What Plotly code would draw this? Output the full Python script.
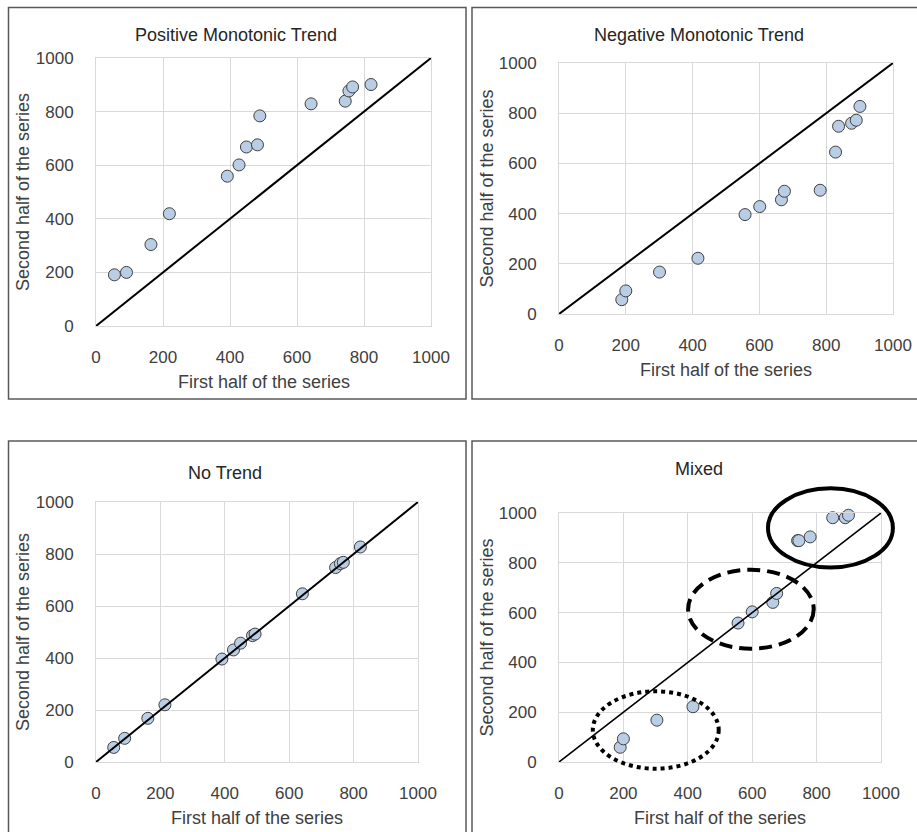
import plotly.graph_objects as go

W, H = 917, 832

# ---------------- data ----------------
pos_x = [55, 91, 164, 219, 392, 427, 449, 482, 489, 642, 744, 755, 766, 821]
pos_y = [191, 200, 304, 419, 559, 601, 668, 676, 784, 829, 839, 877, 892, 901]

neg_x = [188, 200, 301, 416, 557, 601, 666, 675, 782, 828, 837, 876, 890, 901]
neg_y = [57, 92, 167, 222, 396, 428, 455, 489, 493, 645, 748, 760, 772, 827]

none_x = [55, 89, 161, 214, 391, 427, 449, 486, 494, 641, 744, 759, 768, 821]
none_y = [56, 91, 168, 220, 396, 431, 457, 486, 492, 647, 748, 763, 768, 827]

mix_x = [190, 200, 304, 416, 556, 600, 664, 676, 741, 745, 780, 850, 889, 899]
mix_y = [59, 93, 168, 222, 558, 603, 641, 677, 889, 889, 904, 981, 981, 991]

diag = [0, 1000]
ticks = [0, 200, 400, 600, 800, 1000]
titles = ["Positive Monotonic Trend", "Negative Monotonic Trend", "No Trend", "Mixed"]
x_title = "First half of the series"
y_title = "Second half of the series"

# cluster ellipses in the Mixed panel (data units): x0, x1, y0, y1
ell_high = [649, 1037, 781, 1099]
ell_mid = [401, 791, 455, 772]
ell_low = [105, 496, -27, 284]

# ---------------- layout geometry (window pixels) ----------------
# plot areas: left, right, top, bottom
areas = [(96, 431, 58, 326), (559, 893, 63, 314), (96, 418, 502, 762), (559, 881, 513, 762)]
frames = [(8.5, 466, 7.5, 399), (472, 925, 7.5, 399), (8.5, 466, 441, 840), (472, 925, 441, 840)]
title_pos = [(236, 35), (699, 35), (225, 473), (699, 469)]


def px(v):
    return v / W


def py(v):
    return 1 - v / H


FONT = "Liberation Sans, Arial, sans-serif"
TXT = "#404040"
GRID = "#d9d9d9"
FILL = "#b9cde5"
EDGE = "#404040"

fig = go.Figure()
series = [(pos_x, pos_y), (neg_x, neg_y), (none_x, none_y), (mix_x, mix_y)]

layout = dict(
    width=W, height=H, margin=dict(l=0, r=0, t=0, b=0, pad=0, autoexpand=False),
    paper_bgcolor="white", plot_bgcolor="white", showlegend=False,
    font=dict(family=FONT, size=17, color=TXT),
)
annotations = []
shapes = []

for i, ((xs, ys), (l, r, t, b)) in enumerate(zip(series, areas)):
    n = i + 1
    xa = "x" if n == 1 else f"x{n}"
    ya = "y" if n == 1 else f"y{n}"
    fig.add_trace(go.Scatter(
        x=xs, y=ys, mode="markers", xaxis=xa, yaxis=ya,
        marker=dict(size=12, color=FILL, line=dict(color=EDGE, width=1)),
        cliponaxis=False,
    ))
    fig.add_trace(go.Scatter(
        x=diag, y=diag, mode="lines", xaxis=xa, yaxis=ya,
        line=dict(color="black", width=1.6 if n == 4 else 2),
    ))
    axcommon = dict(
        range=[0, 1000], tickvals=ticks, showgrid=True, gridcolor=GRID, gridwidth=1,
        showline=True, mirror=True, linecolor=GRID, linewidth=1, zeroline=False,
        ticks="", tickfont=dict(family=FONT, size=17, color=TXT), fixedrange=True,
        automargin=False,
    )
    layout["xaxis" if n == 1 else f"xaxis{n}"] = dict(
        axcommon, domain=[px(l), px(r)], anchor=ya, ticklabelstandoff=16)
    layout["yaxis" if n == 1 else f"yaxis{n}"] = dict(
        axcommon, domain=[py(b), py(t)], anchor=xa, ticklabelstandoff=18)

    # panel frame
    fl, fr, ft, fb = frames[i]
    shapes.append(dict(type="rect", xref="paper", yref="paper",
                       x0=px(fl), x1=px(fr), y0=py(fb), y1=py(ft),
                       line=dict(color="#595959", width=1.5), layer="below"))
    # titles
    tx, ty = title_pos[i]
    annotations.append(dict(text=titles[i], x=px(tx), y=py(ty), xref="paper", yref="paper",
                            showarrow=False, xanchor="center", yanchor="middle",
                            font=dict(family=FONT, size=18, color="#262626")))
    # axis titles
    annotations.append(dict(text=x_title, x=px((l + r) / 2), y=py(b + 56),
                            xref="paper", yref="paper", showarrow=False,
                            xanchor="center", yanchor="middle",
                            font=dict(family=FONT, size=18, color=TXT)))
    annotations.append(dict(text=y_title, x=px(l - 73), y=py((t + b) / 2),
                            xref="paper", yref="paper", showarrow=False, textangle=-90,
                            xanchor="center", yanchor="middle",
                            font=dict(family=FONT, size=18, color=TXT)))


def ellipse(box, dash):
    x0, x1, y0, y1 = box
    return dict(type="circle", xref="x4 domain", yref="y4 domain",
                x0=x0 / 1000, x1=x1 / 1000, y0=y0 / 1000, y1=y1 / 1000,
                line=dict(color="black", width=4, dash=dash), layer="above")


shapes.append(ellipse(ell_high, "solid"))
shapes.append(ellipse(ell_mid, "13px,7px"))
shapes.append(ellipse(ell_low, "dot"))

layout["shapes"] = shapes
layout["annotations"] = annotations
fig.update_layout(**layout)
# remove the browser's default 8px body margin so the figure fills the window
fig.write_html("out.html", config={"displayModeBar": False},
               post_script="document.body.style.margin='0px';")
